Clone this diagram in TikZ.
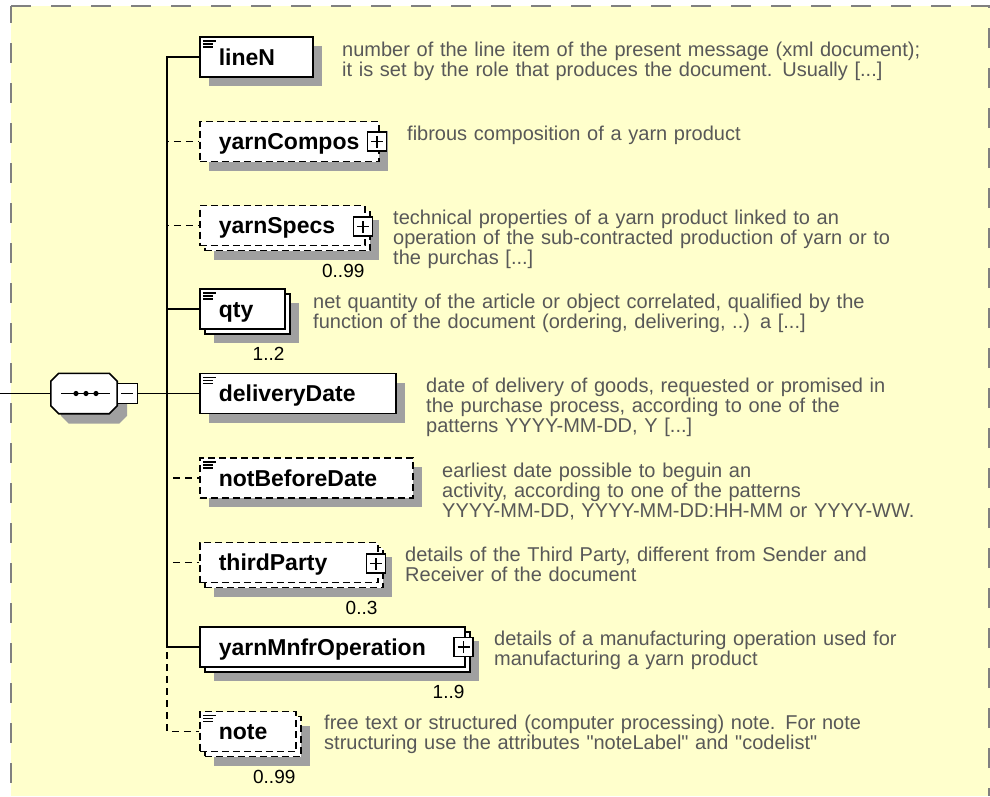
\documentclass[tikz,border=0pt]{standalone}
\usepackage{fontspec}
\setmainfont{Liberation Sans}
\newfontfamily\docfont{Liberation Sans}[Ligatures=TeXOff]
\usetikzlibrary{positioning}

\definecolor{schemabg}{HTML}{FFFFCC}
\definecolor{framegray}{HTML}{808080}
\definecolor{shadowgray}{HTML}{A0A0A0}
\definecolor{docgray}{HTML}{585858}

\begin{document}
\begin{tikzpicture}[x=1pt, y=-1pt,
      frame/.style ={draw=framegray, line width=2pt, dash pattern=on 20pt off 20pt},
      elem/.style ={rectangle, draw=black, line width=1.6pt, fill=white,
        anchor=west, minimum height=40pt, inner xsep=19pt, inner ysep=0pt,
        align=left, text height=20pt, text depth=3.5pt,
        font=\fontsize{23}{23}\selectfont\bfseries},
      single/.style ={preaction={fill=shadowgray, draw=none,
        transform canvas={shift={(9pt,-9pt)}}}},
      multi/.style ={preaction={fill=shadowgray, draw=none,
        transform canvas={shift={(14pt,-14pt)}}},
        preaction={fill=white, draw=black,
        transform canvas={shift={(5pt,-5pt)}}}},
      optional/.style ={dash pattern=on 7pt off 4pt},
      simple/.style ={path picture={
        \draw[solid, line width=1.3pt]
          ([shift={(3pt,-4pt)}]path picture bounding box.north west) -- ++(13pt,0pt)
          ([shift={(3pt,-7pt)}]path picture bounding box.north west) -- ++(10pt,0pt)
          ([shift={(3pt,-10pt)}]path picture bounding box.north west) -- ++(10pt,0pt);}},
      plusbox/.style ={rectangle, draw=black, solid, fill=white, line width=1.3pt,
        minimum size=19pt, inner sep=0pt, path picture={
        \draw[line width=1.3pt]
          ([xshift=-6pt]path picture bounding box.center) -- ([xshift=6pt]path picture bounding box.center)
          ([yshift=-6pt]path picture bounding box.center) -- ([yshift=6pt]path picture bounding box.center);}},
      minusbox/.style ={rectangle, draw=black, fill=white, line width=1.3pt,
        minimum size=20pt, inner sep=0pt, path picture={
        \draw[line width=1.3pt]
          ([xshift=-6pt]path picture bounding box.center) -- ([xshift=6pt]path picture bounding box.center);}},
      seqbox/.style ={rectangle, minimum width=66pt, minimum height=40pt, inner sep=0pt},
      seqshape/.style ={insert path={([xshift=8pt]seq.north west) -- ([xshift=-8pt]seq.north east)
        -- ([yshift=-8pt]seq.north east) -- ([yshift=8pt]seq.south east)
        -- ([xshift=-8pt]seq.south east) -- ([xshift=8pt]seq.south west)
        -- ([yshift=8pt]seq.south west) -- ([yshift=-8pt]seq.north west) -- cycle}},
      occ/.style ={inner sep=0pt, font=\fontsize{19}{19}\selectfont},
      doc/.style ={anchor=base west, inner sep=0pt, text width=600pt, align=left,
        text=docgray, font=\docfont\fontsize{20}{20}\selectfont},
      link/.style ={draw, line width=1.5pt},
      link_opt/.style ={link, dash pattern=on 7pt off 5pt}]
    \useasboundingbox (0,0) rectangle (990,796);
    %
    % 0. the yellow group area
    \fill[schemabg] (11,6) rectangle (990,796);
    \draw[frame] (11,6) -- (989,6) -- (989,796);
    \draw[frame, dash phase=3pt] (11,6) -- (11,796);
    %
    % 1. the sequence compositor
    \coordinate (root) at (0,393.5);
    \node[seqbox] (seq) at (84,393.5) {};
    \fill[shadowgray, transform canvas={shift={(10pt,-10pt)}}, seqshape];
    \filldraw[fill=white, draw=black, line width=1.6pt, seqshape];
    \draw[line width=1.3pt] ([xshift=-23pt]seq.center) -- ([xshift=26pt]seq.center);
    \foreach \dx in {-8,2,12}
      \fill[black] ([xshift=\dx pt]seq.center) circle (2.6pt);
    \node[minusbox] (seq_minus) at ([xshift=10pt]seq.east) {};
    \coordinate (spine) at (167,393.5);
    %
    % 2. the child elements
    \node[elem, single, simple, text width=75pt] (lineN) at (199,57) {lineN};
    \node[elem, single, optional, text width=141pt] (yarnCompos) at (199,141.5) {yarnCompos};
    \node[elem, multi, optional, text width=127pt] (yarnSpecs) at (199,225.5) {yarnSpecs};
    \node[elem, multi, simple, text width=47pt] (qty) at (199,309) {qty};
    \node[elem, single, simple, text width=158pt] (deliveryDate) at (199,393.5) {deliveryDate};
    \node[elem, single, optional, simple, text width=175pt] (notBeforeDate) at (199,478) {notBeforeDate};
    \node[elem, multi, optional, text width=140pt] (thirdParty) at (199,562.5) {thirdParty};
    \node[elem, multi, text width=227pt] (yarnMnfrOperation) at (199,647) {yarnMnfrOperation};
    \node[elem, multi, optional, simple, text width=58pt] (note) at (199,731.5) {note};
    %
    % expand buttons
    \node[plusbox] (yarnCompos_plus) at ([xshift=-2.5pt]yarnCompos.east) {};
    \node[plusbox] (yarnSpecs_plus) at ([shift={(-2.5pt,-1pt)}]yarnSpecs.east) {};
    \node[plusbox] (thirdParty_plus) at ([shift={(-2.5pt,-1pt)}]thirdParty.east) {};
    \node[plusbox] (yarnMnfrOperation_plus) at ([xshift=-2pt]yarnMnfrOperation.east) {};
    %
    % occurrences
    \node[occ, below left=17.5pt and 1pt of yarnSpecs.south east] (yarnSpecs_occ) {0..99};
    \node[occ, below left=17.5pt and 1pt of qty.south east] (qty_occ) {1..2};
    \node[occ, below left=17.5pt and 1pt of thirdParty.south east] (thirdParty_occ) {0..3};
    \node[occ, below left=17.5pt and 1pt of yarnMnfrOperation.south east] (yarnMnfrOperation_occ) {1..9};
    \node[occ, below left=17.5pt and 1pt of note.south east] (note_occ) {0..99};
    %
    % annotations
    \node[doc] (lineN_doc) at (342,56) {number of the line item of the present message (xml document);\\it is set by the role that produces the document. Usually [...]};
    \node[doc] (yarnCompos_doc) at (407,140) {fibrous composition of a yarn product};
    \node[doc] (yarnSpecs_doc) at (393,224) {technical properties of a yarn product linked to an\\operation of the sub-contracted production of yarn or to\\the purchas [...]};
    \node[doc] (qty_doc) at (313,308.5) {net quantity of the article or object correlated, qualified by the\\function of the document (ordering, delivering, ..) a [...]};
    \node[doc] (deliveryDate_doc) at (426,392.5) {date of delivery of goods, requested or promised in\\the purchase process, according to one of the\\patterns YYYY-MM-DD, Y [...]};
    \node[doc] (notBeforeDate_doc) at (442,477) {earliest date possible to beguin an\\activity, according to one of the patterns\\YYYY-MM-DD, YYYY-MM-DD:HH-MM or YYYY-WW.};
    \node[doc] (thirdParty_doc) at (405,561.5) {details of the Third Party, different from Sender and\\Receiver of the document};
    \node[doc] (yarnMnfrOperation_doc) at (494,645) {details of a manufacturing operation used for\\manufacturing a yarn product};
    \node[doc] (note_doc) at (324,729.5) {free text or structured (computer processing) note. For note\\structuring use the attributes "noteLabel" and "codelist"};
    %
    % 3. connecting nodes with paths
    \begin{scope}[every path/.style=link]
      % optional children first
      \path[link_opt] (seq_minus.east) -- (spine) |- (yarnCompos.west);
      \path[link_opt] (seq_minus.east) -- (spine) |- (yarnSpecs.west);
      \path[link_opt] (seq_minus.east) -- (spine) |- (notBeforeDate.west);
      \path[link_opt] (seq_minus.east) -- (spine) |- (thirdParty.west);
      \path[link_opt] (seq_minus.east) -- (spine) |- (note.west);
      % required children
      \path (root) -- (seq.west);
      \path (seq_minus.east) -- (spine) |- (lineN.west);
      \path (seq_minus.east) -- (spine) |- (qty.west);
      \path (seq_minus.east) -- (deliveryDate.west);
      \path (seq_minus.east) -- (spine) |- (yarnMnfrOperation.west);
    \end{scope}
\end{tikzpicture}
\end{document}
